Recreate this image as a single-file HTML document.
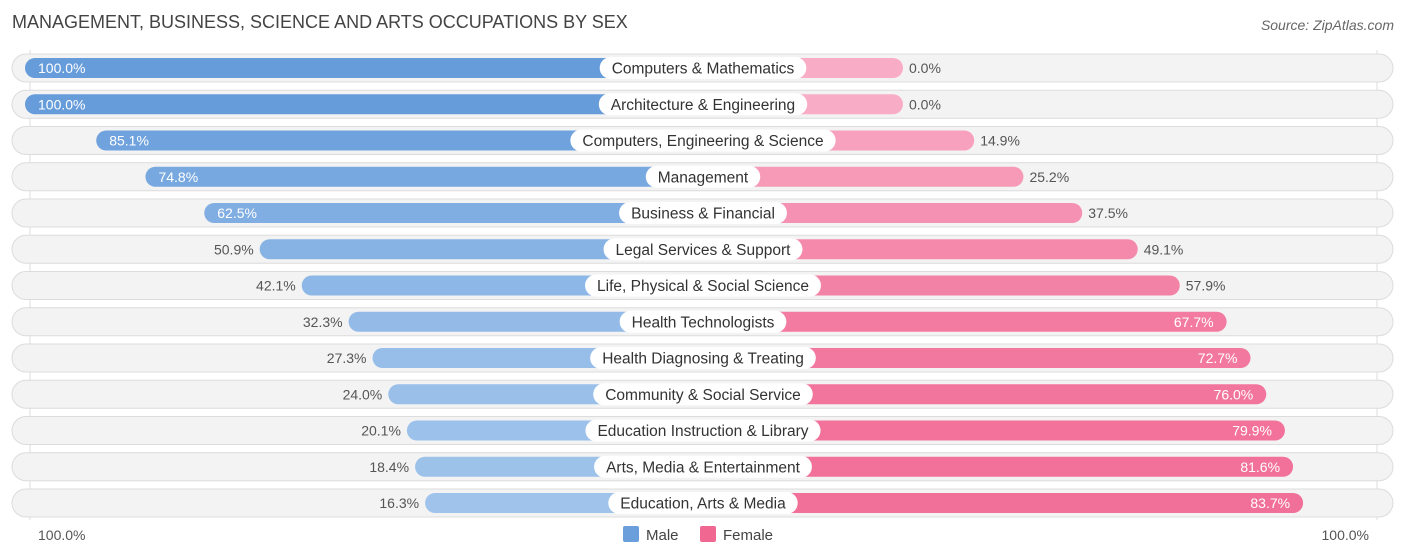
<!DOCTYPE html>
<html><head><meta charset="utf-8"><style>
body{margin:0;background:#fff;font-family:"Liberation Sans",sans-serif;}
svg{display:block}
text{font-family:"Liberation Sans",sans-serif;}
</style></head><body>
<svg id="c" width="1406" height="559">
<text x="12" y="28" font-size="18" fill="#444">MANAGEMENT, BUSINESS, SCIENCE AND ARTS OCCUPATIONS BY SEX</text>
<text x="1394" y="30" font-size="14" fill="#666" font-style="italic" text-anchor="end">Source: ZipAtlas.com</text>
<line x1="30" y1="50" x2="30" y2="520" stroke="#ddd"/>
<line x1="1377" y1="50" x2="1377" y2="520" stroke="#ddd"/>
<g id="rows"></g>
<text x="38" y="540" font-size="14" fill="#555">100.0%</text>
<text x="1369" y="540" font-size="14" fill="#555" text-anchor="end">100.0%</text>
<g><rect x="623" y="526" width="16" height="16" rx="2" fill="#6a9fdc"/><text x="646" y="540" font-size="15" fill="#444">Male</text></g>
<g><rect x="700" y="526" width="16" height="16" rx="2" fill="#f06892"/><text x="723" y="540" font-size="15" fill="#444">Female</text></g>
</svg>
<script>
const categories=["Computers & Mathematics","Architecture & Engineering","Computers, Engineering & Science","Management","Business & Financial","Legal Services & Support","Life, Physical & Social Science","Health Technologists","Health Diagnosing & Treating","Community & Social Service","Education Instruction & Library","Arts, Media & Entertainment","Education, Arts & Media"];
const maleValues=[100,100,85.1,74.8,62.5,50.9,42.1,32.3,27.3,24.0,20.1,18.4,16.3];
const femaleValues=[0,0,14.9,25.2,37.5,49.1,57.9,67.7,72.7,76.0,79.9,81.6,83.7];
const NS="http://www.w3.org/2000/svg";
const cx=703, y0=68, step=36.25;
function len(v){return 200+4.78*v;}
function mix(a,b,t){return "rgb("+a.map((x,i)=>Math.round(x+(b[i]-x)*t)).join(",")+")";}
function mk(tag,attrs,parent){const e=document.createElementNS(NS,tag);for(const k in attrs)e.setAttribute(k,attrs[k]);parent.appendChild(e);return e;}
const g=document.getElementById("rows");
categories.forEach((cat,i)=>{
  const y=y0+i*step;
  const row=mk("g",{},g);
  
  
  const bg=mk("rect",{x:12,y:y-14,width:1381,height:28,rx:14,fill:"#f3f3f3",stroke:"#dcdcdc"},row);
  
  
  const m=maleValues[i], f=femaleValues[i];
  const ml=len(m), fl=len(f);
  const mb=mk("rect",{x:cx-ml,y:y-10,width:ml,height:20,rx:10,fill:mix([170,202,238],[102,156,218],m/100)},row);
  
  
  const fb=mk("rect",{x:cx,y:y-10,width:fl,height:20,rx:10,fill:mix([248,172,198],[240,100,144],f/100)},row);
  
  
  const mIn=m>=60, fIn=f>=60;
  const mt=mk("text",{x:mIn?cx-ml+13:cx-ml-6,y:y+5,"font-size":14,fill:mIn?"#fff":"#555","text-anchor":mIn?"start":"end"},row);
  mt.textContent=m.toFixed(1)+"%";
  
  
  const ft=mk("text",{x:fIn?cx+fl-13:cx+fl+6,y:y+5,"font-size":14,fill:fIn?"#fff":"#555","text-anchor":fIn?"end":"start"},row);
  ft.textContent=f.toFixed(1)+"%";
  
  
  const lt=mk("text",{x:cx,y:y+5.5,"font-size":15.5,fill:"#333","text-anchor":"middle"},row);
  lt.textContent=cat;
  
  
  const w=lt.getComputedTextLength()+24;
  const lb=mk("rect",{x:cx-w/2,y:y-11,width:w,height:22,rx:11,fill:"#fff"},row);
  
  
  row.insertBefore(lb,lt);
});
</script>
</body></html>
